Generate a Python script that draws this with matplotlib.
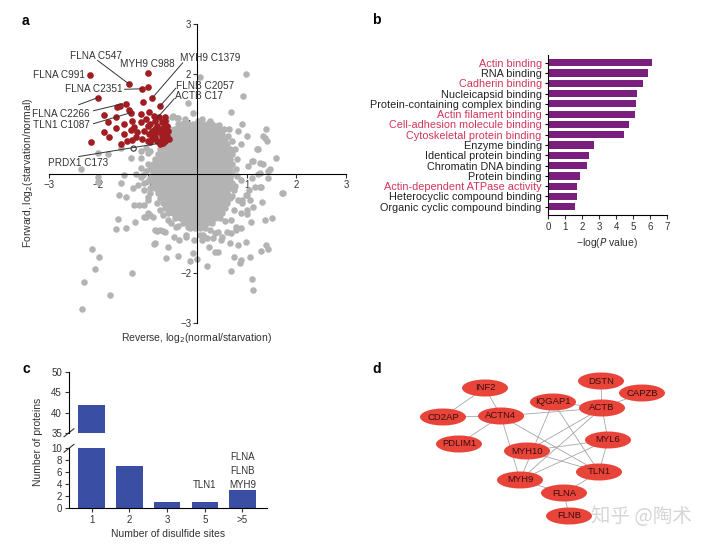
import matplotlib
matplotlib.use('Agg')
import matplotlib.pyplot as plt
from matplotlib.patches import Ellipse
import numpy as np

plt.rcParams['font.family'] = ['Liberation Sans', 'DejaVu Sans', 'Noto Sans CJK SC']
plt.rcParams['font.size'] = 7
plt.rcParams['axes.linewidth'] = 0.8

TXT = '#333333'

# ---------------- panel a data ----------------
# dense core of the gray cloud, read row by row (y, list of x)
core_rows = [
    (1.00, [-0.4, -0.3, -0.2, -0.1, 0.0, 0.1, 0.2, 0.3]),
    (0.90, [-0.55, -0.45, -0.35, -0.25, -0.15, -0.05, 0.05, 0.15, 0.25, 0.35, 0.45]),
    (0.80, [-0.6, -0.5, -0.4, -0.3, -0.2, -0.1, 0.0, 0.1, 0.2, 0.3, 0.4, 0.5]),
    (0.70, [-0.65, -0.55, -0.45, -0.35, -0.25, -0.15, -0.05, 0.05, 0.15, 0.25, 0.35, 0.45, 0.55]),
    (0.60, [-0.7, -0.6, -0.5, -0.4, -0.3, -0.2, -0.1, 0.0, 0.1, 0.2, 0.3, 0.4, 0.5, 0.6]),
    (0.50, [-0.75, -0.65, -0.55, -0.45, -0.35, -0.25, -0.15, -0.05, 0.05, 0.15, 0.25, 0.35, 0.45, 0.55, 0.65]),
    (0.40, [-0.8, -0.7, -0.6, -0.5, -0.4, -0.3, -0.2, -0.1, 0.0, 0.1, 0.2, 0.3, 0.4, 0.5, 0.6, 0.7]),
    (0.30, [-0.85, -0.75, -0.65, -0.55, -0.45, -0.35, -0.25, -0.15, -0.05, 0.05, 0.15, 0.25, 0.35, 0.45, 0.55, 0.65]),
    (0.20, [-0.9, -0.8, -0.7, -0.6, -0.5, -0.4, -0.3, -0.2, -0.1, 0.0, 0.1, 0.2, 0.3, 0.4, 0.5, 0.6, 0.7]),
    (0.10, [-0.95, -0.85, -0.75, -0.65, -0.55, -0.45, -0.35, -0.25, -0.15, -0.05, 0.05, 0.15, 0.25, 0.35, 0.45, 0.55, 0.65]),
    (0.00, [-0.9, -0.8, -0.7, -0.6, -0.5, -0.4, -0.3, -0.2, -0.1, 0.0, 0.1, 0.2, 0.3, 0.4, 0.5, 0.6, 0.7]),
    (-0.10, [-0.95, -0.85, -0.75, -0.65, -0.55, -0.45, -0.35, -0.25, -0.15, -0.05, 0.05, 0.15, 0.25, 0.35, 0.45, 0.55, 0.65]),
    (-0.20, [-0.9, -0.8, -0.7, -0.6, -0.5, -0.4, -0.3, -0.2, -0.1, 0.0, 0.1, 0.2, 0.3, 0.4, 0.5, 0.6, 0.7]),
    (-0.30, [-0.85, -0.75, -0.65, -0.55, -0.45, -0.35, -0.25, -0.15, -0.05, 0.05, 0.15, 0.25, 0.35, 0.45, 0.55, 0.65]),
    (-0.40, [-0.8, -0.7, -0.6, -0.5, -0.4, -0.3, -0.2, -0.1, 0.0, 0.1, 0.2, 0.3, 0.4, 0.5, 0.6]),
    (-0.50, [-0.75, -0.65, -0.55, -0.45, -0.35, -0.25, -0.15, -0.05, 0.05, 0.15, 0.25, 0.35, 0.45, 0.55, 0.65]),
    (-0.60, [-0.7, -0.6, -0.5, -0.4, -0.3, -0.2, -0.1, 0.0, 0.1, 0.2, 0.3, 0.4, 0.5, 0.6]),
    (-0.70, [-0.65, -0.55, -0.45, -0.35, -0.25, -0.15, -0.05, 0.05, 0.15, 0.25, 0.35, 0.45, 0.55]),
    (-0.80, [-0.6, -0.5, -0.4, -0.3, -0.2, -0.1, 0.0, 0.1, 0.2, 0.3, 0.4, 0.5]),
    (-0.90, [-0.45, -0.35, -0.25, -0.15, -0.05, 0.05, 0.15, 0.25, 0.35, 0.45]),
    (-1.00, [-0.3, -0.2, -0.1, 0.0, 0.1, 0.2, 0.3]),
    (-1.10, [-0.15, -0.05, 0.05, 0.15]),
]

# scattered gray points around the core
gray_pts = [
    (0.06, 1.94), (0.97, 2.0), (0.91, 1.55), (0.67, 1.23), (0.43, 0.98), (0.53, 0.9), (0.63, 0.9),
    (0.9, 1.0), (0.81, 0.86), (1.39, 0.9), (1.33, 0.76), (1.41, 0.66), (1.0, 0.76), (0.87, 0.6),
    (1.23, 0.5), (1.59, 0.32), (1.33, 0.2), (1.47, 0.1), (1.13, 0.26), (1.03, 0.16), (1.27, 0.02),
    (1.43, -0.1), (-0.52, 1.14), (-0.63, 1.08), (-0.4, 1.12), (0.02, 1.06),
    (-2.02, 0.42), (-1.81, 0.4), (-1.55, 0.52), (-2.36, 0.1), (-1.15, 0.32), (-1.01, 0.42),
    (-1.35, 0.32), (-1.49, -0.04), (-1.25, 0.0), (-0.91, 0.1),
    (-2.02, -0.08), (-2.02, -0.18), (-1.55, -0.2), (-1.59, -0.44), (-1.45, -0.48), (-1.31, -0.3),
    (-1.21, -0.24), (-1.29, -0.64), (-1.19, -0.64), (-1.09, -0.88), (-0.99, -0.8), (-0.89, -0.88),
    (-1.61, -0.92), (-1.65, -1.12), (-1.45, -1.1), (-1.27, -0.98), (-0.81, -1.16), (-0.69, -1.16),
    (-0.87, -1.42), (-0.6, -1.48), (-0.63, -1.7), (-0.4, -1.66), (-0.4, -1.06), (-0.48, -1.28),
    (-0.38, -1.34), (-0.24, -1.24), (-0.2, -1.08), (-0.1, -1.6), (-0.16, -1.76), (0.0, -1.72),
    (0.2, -1.86), (0.1, -1.34), (0.12, -1.24), (0.24, -1.48), (0.36, -1.58), (0.42, -1.58),
    (0.32, -1.3), (0.48, -1.34), (0.65, -1.4), (0.73, -1.68), (0.67, -1.96), (0.87, -1.74),
    (0.85, -1.8), (0.81, -1.44), (0.97, -1.38), (1.07, -1.68), (1.11, -2.12), (1.13, -2.34),
    (1.29, -1.56), (1.39, -1.44), (1.43, -1.52), (1.37, -0.94), (1.51, -0.9), (1.31, -0.58),
    (1.13, -0.68), (1.09, -0.98), (0.99, -0.82), (1.05, -0.34), (1.29, -0.28), (1.73, -0.4),
    (0.87, -1.1), (0.77, -1.14), (0.6, -1.18), (0.42, -1.18), (0.26, -1.14),
    (-2.14, -1.52), (-2.0, -1.68), (-2.08, -1.92), (-2.3, -2.18), (-1.77, -2.44), (-2.34, -2.72),
    (-1.33, -2.0),
    (-1.15, -0.08), (-1.09, -0.34), (-1.01, -0.48), (-0.81, -0.6), (-0.75, -0.74), (-0.69, -0.84),
    (-0.6, -0.94), (-0.54, -1.0), (0.73, -0.34), (0.81, -0.54), (0.9, -0.6), (0.73, -0.74),
    (0.67, -0.94), (0.87, -0.14), (0.97, -0.44),
    (-0.1, 1.22), (-0.2, 1.42), (0.38, 0.96), (1.21, 0.5), (1.37, 0.72), (1.11, 0.26), (1.27, 0.22),
    (1.43, 0.06), (1.23, 0.0), (1.11, -0.1), (1.17, -0.28), (1.27, -0.28), (1.0, -0.44),
    (1.07, -0.54), (0.9, -0.54), (1.71, -0.4), (1.0, -0.74), (0.87, -0.8), (0.77, -1.08),
    (0.67, -1.2), (0.5, -1.28), (0.36, -1.2), (0.2, -1.3), (0.06, -1.24), (-0.08, -1.34),
    (-0.24, -1.28), (-0.44, -1.08), (-0.85, -1.14), (-0.75, -1.14), (-0.65, -1.18),
    (-0.85, -1.4), (-1.05, -0.88), (-0.95, -0.84), (-1.09, -0.64), (-0.99, -0.54), (-0.95, -0.4),
    (-1.09, -0.2), (-1.11, -0.04), (-1.15, 0.12), (-1.15, 0.46), (-1.05, 0.52), (-0.95, 0.46),
    (-0.5, 1.16), (-0.42, 1.12), (-0.34, 1.0), (0.0, 1.0),
    (0.75, 0.5), (0.8, 0.3), (0.78, 0.1), (0.8, -0.05), (0.75, -0.25), (0.7, -0.45), (0.55, -0.95),
    (0.62, 0.75), (0.7, 0.65), (0.1, 1.1), (0.25, 1.05), (-0.25, 1.1), (-1.0, 0.2), (-1.05, 0.05),
    (-1.0, -0.15), (-0.95, -0.3),
]

# red (disulfide-increased) sites
red_pts = [
    (-2.18, 1.98), (-1.39, 1.8), (-0.99, 2.02), (-1.13, 1.7), (-1.01, 1.74), (-0.91, 1.52),
    (-2.02, 1.52), (-0.75, 1.36), (-2.16, 0.63), (-1.89, 1.18), (-1.81, 1.03), (-1.88, 0.83),
    (-1.79, 0.74), (-1.65, 1.13), (-1.63, 1.33), (-1.57, 1.35), (-1.45, 1.39), (-1.38, 1.28),
    (-1.35, 1.21), (-1.65, 0.91), (-1.49, 0.99), (-1.32, 1.06), (-1.49, 0.79), (-1.35, 0.87),
    (-1.28, 0.94), (-1.42, 0.65), (-1.32, 0.67), (-1.25, 0.73), (-1.14, 1.19), (-1.10, 1.43),
    (-1.15, 1.03), (-1.08, 0.86), (-1.12, 0.69), (-0.98, 1.23), (-0.95, 0.99), (-1.01, 0.96),
    (-0.88, 1.16), (-0.78, 1.13), (-0.85, 1.06), (-0.81, 0.96), (-0.71, 1.03), (-0.68, 0.93),
    (-0.98, 0.79), (-0.88, 0.79), (-0.78, 0.83), (-0.68, 0.83), (-0.91, 0.69), (-0.81, 0.66),
    (-0.71, 0.69), (-1.01, 0.66), (-0.95, 0.63), (-0.75, 0.59), (-0.65, 0.66), (-0.65, 1.13),
    (-1.05, 1.09), (-1.22, 0.83), (-1.55, 0.59), (-0.72, 0.76), (-0.62, 0.76), (-0.85, 0.9),
    (-0.75, 0.9), (-0.62, 0.95), (-0.7, 0.62), (-0.85, 0.74), (-0.92, 0.86), (-0.65, 1.05),
    (-0.6, 0.85), (-0.58, 0.7),
]
prdx1_pt = (-1.29, 0.5)

# label, text position, ha, line start, line end (None = no leader)
site_labels = [
    ('FLNA C547', (-2.06, 2.36), 'center', (-2.02, 2.27), (-1.39, 1.8)),
    ('MYH9 C988', (-1.01, 2.2), 'center', None, None),
    ('MYH9 C1379', (-0.36, 2.32), 'left', (-0.30, 2.22), (-0.91, 1.52)),
    ('FLNA C991', (-2.27, 1.98), 'right', None, None),
    ('FLNA C2351', (-1.51, 1.70), 'right', (-1.47, 1.69), (-1.13, 1.70)),
    ('FLNB C2057', (-0.44, 1.76), 'left', (-0.44, 1.71), (-0.75, 1.36)),
    ('ACTB C17', (-0.46, 1.56), 'left', (-0.47, 1.50), (-0.81, 1.12)),
    ('FLNA C2266', (-2.18, 1.20), 'right', (-2.10, 1.26), (-1.51, 1.40)),
    ('TLN1 C1087', (-2.18, 0.98), 'right', (-2.10, 1.00), (-1.35, 1.22)),
    ('PRDX1 C173', (-3.02, 0.22), 'left', (-2.40, 0.34), (-0.81, 0.60)),
]
extra_leader = ((-2.40, 1.38), (-2.02, 1.52))

# ---------------- panel b data ----------------
go_terms = ['Actin binding', 'RNA binding', 'Cadherin binding', 'Nucleicapsid binding',
            'Protein-containing complex binding', 'Actin filament binding',
            'Cell-adhesion molecule binding', 'Cytoskeletal protein binding', 'Enzyme binding',
            'Identical protein binding', 'Chromatin DNA binding', 'Protein binding',
            'Actin-dependent ATPase activity', 'Heterocyclic compound binding',
            'Organic cyclic compound binding']
go_logp = [6.14, 5.91, 5.59, 5.26, 5.2, 5.13, 4.78, 4.46, 2.71, 2.42, 2.3, 1.91, 1.72, 1.72, 1.56]
go_highlight = [True, False, True, False, False, True, True, True, False, False, False, False,
                True, False, False]

# ---------------- panel c data ----------------
site_cats = ['1', '2', '3', '5', '>5']
protein_counts = [42, 7, 1, 1, 3]

# ---------------- panel d data ----------------
node_names = ['INF2', 'CD2AP', 'ACTN4', 'PDLIM1', 'IQGAP1', 'DSTN', 'CAPZB', 'ACTB',
              'MYL6', 'MYH10', 'TLN1', 'MYH9', 'FLNA', 'FLNB']
node_x = [485, 443, 501, 459, 553, 601, 642, 602, 608, 527, 599, 520, 564, 569]
node_y = [388, 417, 416, 444, 402, 381, 393, 408, 440, 451, 472, 480, 493, 516]
edges = [('INF2', 'CD2AP'), ('INF2', 'ACTN4'), ('CD2AP', 'ACTN4'), ('ACTN4', 'PDLIM1'),
         ('ACTN4', 'ACTB'), ('ACTN4', 'MYH9'), ('ACTN4', 'TLN1'), ('DSTN', 'ACTB'),
         ('CAPZB', 'ACTB'), ('IQGAP1', 'ACTB'), ('IQGAP1', 'MYH9'), ('IQGAP1', 'TLN1'),
         ('ACTB', 'MYH10'), ('ACTB', 'MYH9'), ('ACTB', 'MYL6'), ('MYL6', 'MYH10'),
         ('MYL6', 'MYH9'), ('MYL6', 'TLN1'), ('MYH10', 'TLN1'), ('MYH9', 'FLNA'),
         ('TLN1', 'FLNA'), ('FLNA', 'FLNB')]

W, H = 720, 544
fig = plt.figure(figsize=(7.2, 5.44), dpi=100)


def px_axes(x0, y0, x1, y1):
    # axes from pixel box (top-left origin)
    return fig.add_axes([x0 / W, 1 - y1 / H, (x1 - x0) / W, (y1 - y0) / H])


# ================= a =================
ax = px_axes(49, 24, 346, 323)
cx, cy = [], []
for yv, xs in core_rows:
    for xv in xs:
        cx.append(xv)
        cy.append(yv)
gx = [p[0] for p in gray_pts] + cx
gy = [p[1] for p in gray_pts] + cy
ax.scatter(gx, gy, s=22, color='#b3b3b3', linewidths=0, zorder=2)
ax.scatter([p[0] for p in red_pts], [p[1] for p in red_pts], s=23, color='#a11d22',
           linewidths=0, zorder=3)
ax.scatter([prdx1_pt[0]], [prdx1_pt[1]], s=14, facecolor='none', edgecolor='#333333',
           linewidths=0.8, zorder=4)
ax.set_xlim(-3, 3)
ax.set_ylim(-3, 3)
for side in ['top', 'right']:
    ax.spines[side].set_visible(False)
ax.spines['left'].set_position(('data', 0))
ax.spines['bottom'].set_position(('data', 0))
ax.spines['left'].set_zorder(5)
ax.spines['bottom'].set_zorder(5)
ticks = [-3, -2, -1, 1, 2, 3]
ax.set_xticks(ticks)
ax.set_yticks(ticks)
ax.set_xticklabels(['−3', '−2', '−1', '1', '2', '3'])
ax.set_yticklabels(['−3', '−2', '−1', '1', '2', '3'])
ax.tick_params(direction='out', length=3, width=0.8, labelsize=7, colors=TXT, pad=1.5)
for lab, tpos, ha, l0, l1 in site_labels:
    ax.text(tpos[0], tpos[1], lab, ha=ha, va='center', fontsize=7.2, color=TXT, zorder=6)
    if l0 is not None:
        ax.plot([l0[0], l1[0]], [l0[1], l1[1]], color='#333333', lw=0.7, zorder=6)
ax.plot([extra_leader[0][0], extra_leader[1][0]], [extra_leader[0][1], extra_leader[1][1]],
        color='#333333', lw=0.7, zorder=6)
fig.text(28 / W, 1 - 173 / H, 'Forward, log$_2$(starvation/normal)', rotation=90,
         ha='center', va='center', fontsize=7.5, color=TXT)
fig.text(197 / W, 1 - 338 / H, 'Reverse, log$_2$(normal/starvation)', ha='center',
         va='center', fontsize=7.5, color=TXT)

# ================= b =================
axb = px_axes(548, 55, 667, 215)
ypos = np.arange(len(go_terms))
axb.barh(ypos, go_logp, height=0.7, color='#7a1f7e')
axb.set_xlim(0, 7)
axb.set_ylim(len(go_terms) - 0.2, -0.75)
axb.set_yticks(ypos)
axb.set_yticklabels(go_terms)
for lab, hi in zip(axb.get_yticklabels(), go_highlight):
    lab.set_color('#d2345a' if hi else '#222222')
axb.set_xticks(range(8))
axb.spines['top'].set_visible(False)
axb.spines['right'].set_visible(False)
axb.tick_params(axis='y', length=2.5, width=0.8, labelsize=7.8, pad=2)
axb.tick_params(axis='x', length=3, width=0.8, labelsize=7, colors=TXT, pad=2)
axb.set_xlabel('−log($P$ value)', fontsize=7.5, color=TXT, labelpad=3)

# ================= c =================
axc_top = px_axes(69, 372, 267, 433)
axc_bot = px_axes(69, 448, 267, 508)
xc = np.arange(len(site_cats))
for a_ in (axc_top, axc_bot):
    a_.bar(xc, protein_counts, width=0.7, color='#3a4fa3')
    a_.set_xlim(-0.6, 4.65)
    a_.spines['top'].set_visible(False)
    a_.spines['right'].set_visible(False)
    a_.tick_params(length=3, width=0.8, labelsize=7, colors=TXT, pad=2)
axc_top.set_ylim(35, 50)
axc_top.set_yticks([35, 40, 45, 50])
axc_top.spines['bottom'].set_visible(False)
axc_top.set_xticks([])
axc_bot.set_ylim(0, 10)
axc_bot.set_yticks([0, 2, 4, 6, 8, 10])
axc_bot.set_xticks(xc)
axc_bot.set_xticklabels(site_cats)
axc_bot.set_xlabel('Number of disulfide sites', fontsize=7.5, color=TXT, labelpad=3)
# break marks
axc_top.plot([-0.025, 0.025], [-0.06, 0.07], transform=axc_top.transAxes, color=TXT,
             lw=0.8, clip_on=False)
axc_bot.plot([-0.025, 0.025], [0.93, 1.06], transform=axc_bot.transAxes, color=TXT,
             lw=0.8, clip_on=False)
axc_bot.text(3, 3.9, 'TLN1', ha='center', va='center', fontsize=7, color=TXT)
for yv, lab in zip([8.5, 6.1, 3.8], ['FLNA', 'FLNB', 'MYH9']):
    axc_bot.text(4, yv, lab, ha='center', va='center', fontsize=7, color=TXT)
fig.text(38 / W, 1 - 442 / H, 'Number of proteins', rotation=90, ha='center', va='center',
         fontsize=7.5, color=TXT)

# ================= d =================
axd = px_axes(400, 365, 710, 535)
axd.set_xlim(400, 710)
axd.set_ylim(535, 365)
axd.axis('off')
pos = {n: (x, y) for n, x, y in zip(node_names, node_x, node_y)}
for a, b in edges:
    axd.plot([pos[a][0], pos[b][0]], [pos[a][1], pos[b][1]], color='#a6a6a6', lw=0.6, zorder=1)
for n in node_names:
    axd.add_patch(Ellipse(pos[n], 46, 17, facecolor='#e8443a', edgecolor='none', zorder=2))
    axd.text(pos[n][0], pos[n][1], n, ha='center', va='center', fontsize=6.8,
             color='#3a0d0d', zorder=3)
fig.text(591 / W, 1 - 516 / H, '知乎 @陶术', ha='left', va='center', fontsize=14,
         color='#d6d6d6', family=['Noto Sans CJK SC', 'DejaVu Sans'])

# panel letters
for lt, (px_, py_) in zip('abcd', [(25, 21), (376, 20), (26, 369), (377, 369)]):
    fig.text(px_ / W, 1 - py_ / H, lt, ha='center', va='center', fontsize=10,
             fontweight='bold', color='black')

fig.savefig('out.png', dpi=100)
